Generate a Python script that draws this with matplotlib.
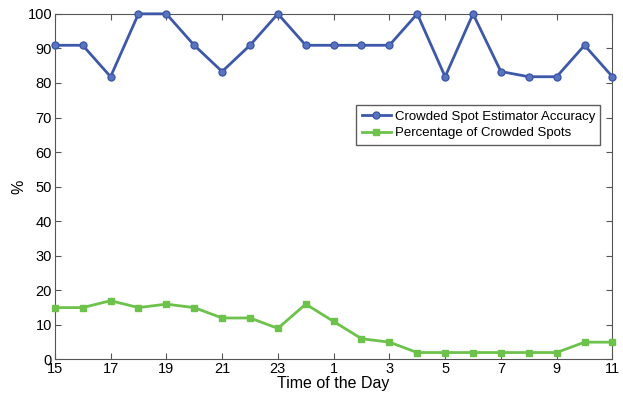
import matplotlib.pyplot as plt
import numpy as np

hours = [15, 16, 17, 18, 19, 20, 21, 22, 23, 0, 1, 2, 3, 4, 5, 6, 7, 8, 9, 10, 11]
accuracy = [90.9, 90.9, 81.8, 100, 100, 90.9, 83.3, 90.9, 100, 90.9, 90.9,
            90.9, 90.9, 100, 81.8, 100, 83.3, 81.8, 81.8, 90.9, 81.8]
crowded = [15, 15, 17, 15, 16, 15, 12, 12, 9, 16, 11, 6, 5, 2, 2, 2, 2, 2, 2, 5, 5]
tick_labels = ["15", "17", "19", "21", "23", "1", "3", "5", "7", "9", "11"]

plt.rcParams['font.family'] = ['Liberation Sans', 'DejaVu Sans']

fig = plt.figure(figsize=(6.23, 3.95), dpi=100)
ax = fig.add_axes([0.088, 0.09, 0.895, 0.875])

x = np.arange(len(hours))
ax.plot(x, accuracy, color='#3d58a8', lw=2, marker='o', ms=5,
        markerfacecolor='#5a74c0', markeredgecolor='#3d58a8',
        label='Crowded Spot Estimator Accuracy', clip_on=False, zorder=3)
ax.plot(x, crowded, color='#6cc24a', lw=2, marker='s', ms=4.5,
        label='Percentage of Crowded Spots', clip_on=False, zorder=3)

ax.set_xlim(0, len(hours) - 1)
ax.set_ylim(0, 100)
ax.set_xticks(x[::2])
ax.set_xticklabels(tick_labels)
ax.set_yticks(range(0, 101, 10))
ax.tick_params(direction='in', top=True, right=True, labelsize=10.5, length=4,
               color='#555555', pad=2)
for s in ax.spines.values():
    s.set_color('#555555')
ax.set_xlabel('Time of the Day', fontsize=11.5, labelpad=0)
ax.set_ylabel('%', fontsize=11.5, labelpad=1)

leg = ax.legend(loc='upper right', bbox_to_anchor=(0.99, 0.755), fontsize=9.5,
                frameon=True, fancybox=False, handlelength=2.2,
                borderpad=0.4, labelspacing=0.35, handletextpad=0.3)
leg.get_frame().set_edgecolor('#333333')
leg.get_frame().set_linewidth(1)

fig.savefig('out.png')
